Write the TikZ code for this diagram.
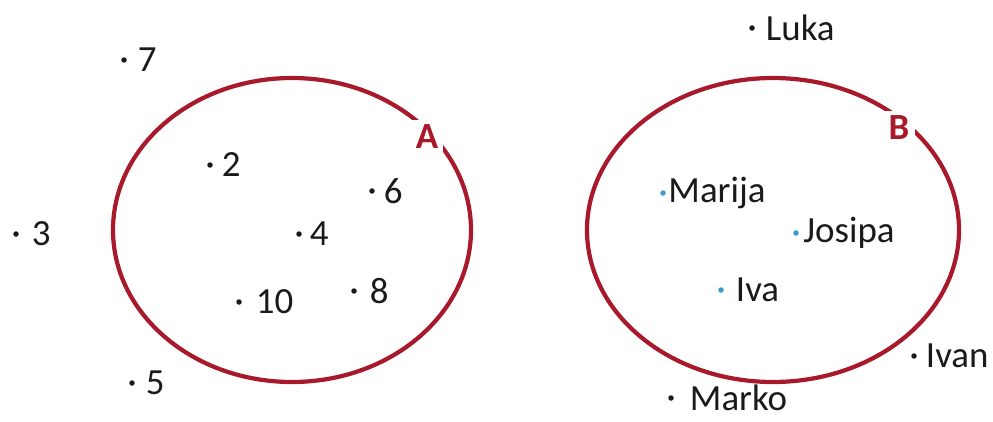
\documentclass[tikz,border=0pt]{standalone}
\usepackage{fontspec}
\setmainfont{Carlito}
\usetikzlibrary{positioning}
\definecolor{setred}{HTML}{A8192B}
\definecolor{ptblue}{HTML}{3C9AC8}
\definecolor{ptgray}{HTML}{1A1A1A}

\begin{document}
\begin{tikzpicture}[font=\fontsize{21}{25}\selectfont,
       dot/.style={circle,fill=ptgray,inner sep=0pt,minimum size=0.11cm},
       bluedot/.style={dot,fill=ptblue},
       elem/.style={inner sep=0pt,text=ptgray},
       setline/.style={draw=setred,line width=2.4pt},
       setname/.style={fill=white,text=setred,font=\fontsize{21}{25}\selectfont\bfseries,inner sep=3pt}]
      \useasboundingbox (0,0) rectangle (19.86,8.42);
      % sets
      \draw[setline] (5.84,3.82) ellipse [x radius=3.58,y radius=3.04];
      \draw[setline] (15.46,3.82) ellipse [x radius=3.72,y radius=3.04];
      \node[setname] (A) at (8.54,5.68) {A};
      \node[setname] (B) at (17.98,5.86) {B};
      % elements of A and around it
      \foreach \n/\x/\y/\g in {7/2.48/7.22/0.21, 2/4.20/5.12/0.17, 6/7.44/4.60/0.17,
                               3/0.32/3.74/0.25, 4/5.98/3.74/0.15, 8/7.08/2.60/0.25,
                               10/4.78/2.38/0.27, 5/2.64/0.76/0.21}{
        \node[dot] (d\n) at (\x,\y) {};
        \node[elem,right=\g cm of d\n] (t\n) {\n};
      }
      % elements of B
      \foreach \n/\x/\y/\g in {Marija/13.26/4.56/0.04, Josipa/15.92/3.76/0.08, Iva/14.42/2.62/0.23}{
        \node[bluedot] (d\n) at (\x,\y) {};
        \node[elem,right=\g cm of d\n] (t\n) {\n};
      }
      % outside B
      \foreach \n/\x/\y/\g in {Luka/15.04/7.86/0.21, Ivan/18.28/1.30/0.17, Marko/13.42/0.46/0.31}{
        \node[dot] (d\n) at (\x,\y) {};
        \node[elem,right=\g cm of d\n] (t\n) {\n};
      }
\end{tikzpicture}
\end{document}
